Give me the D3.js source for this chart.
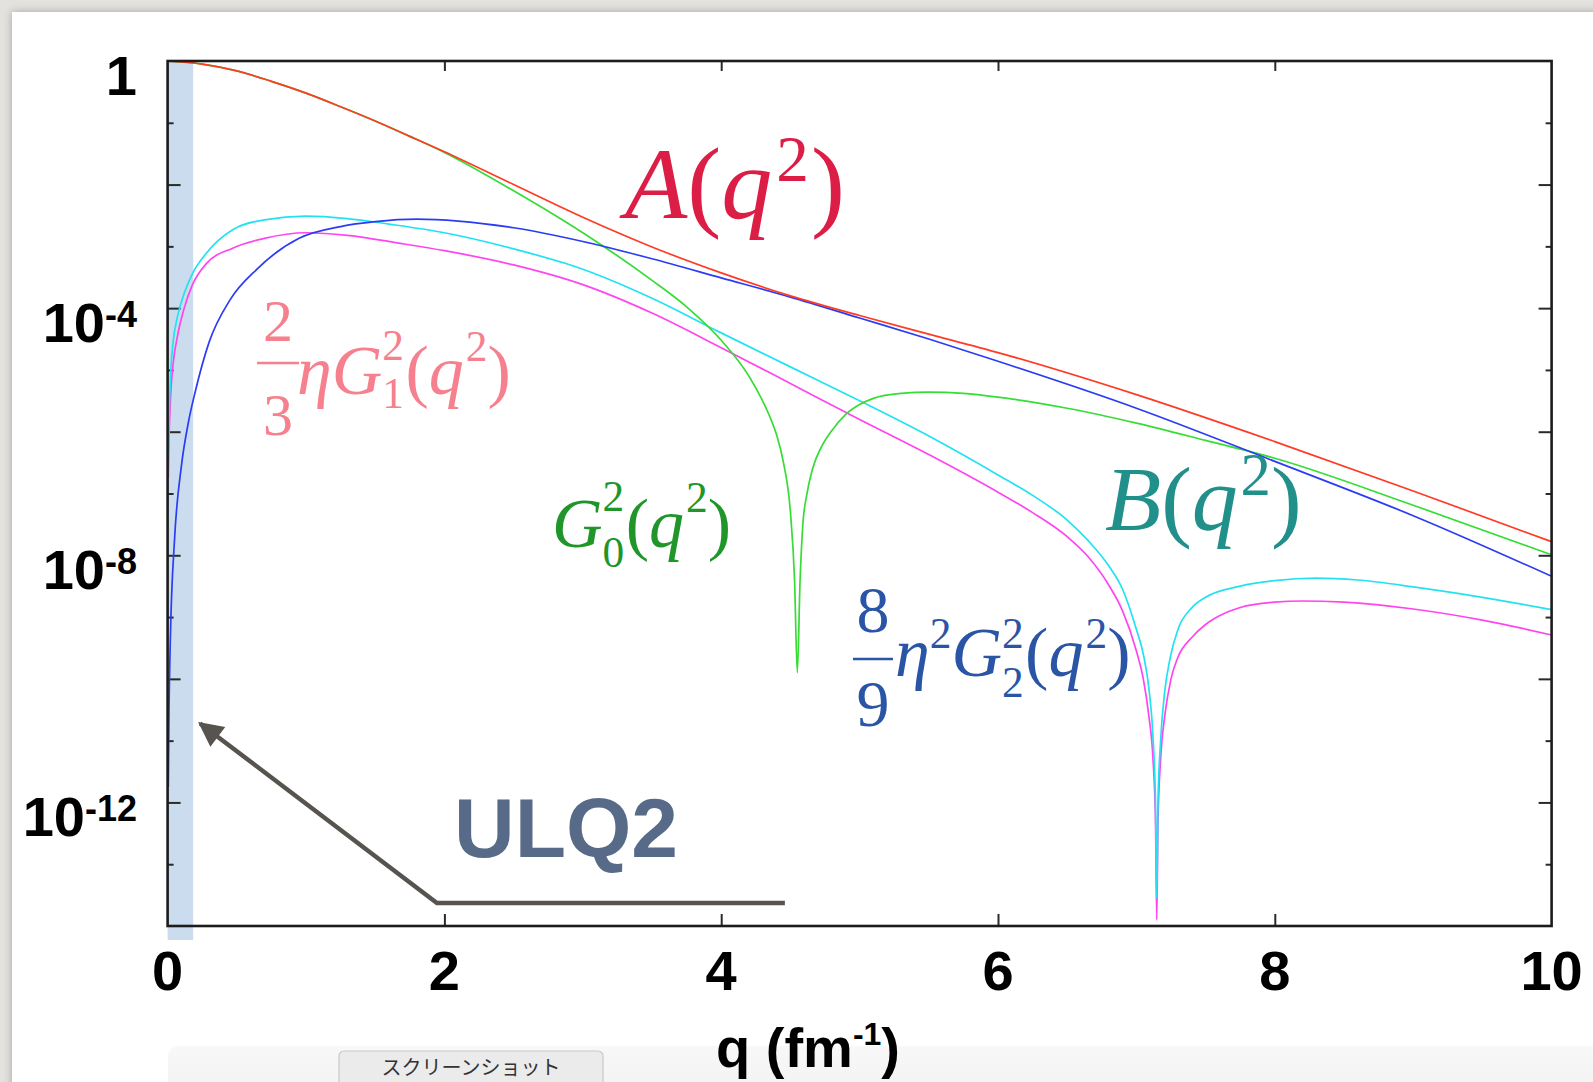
<!DOCTYPE html>
<html>
<head>
<meta charset="utf-8">
<script src="https://cdn.jsdelivr.net/npm/d3@7"></script>
<style>
  html, body { margin: 0; padding: 0; background: #e4e2de; }
  svg { display: block; }
</style>
</head>
<body>
<svg id="chart" width="1593" height="1082"></svg>
<script>
// ---- deuteron form factors vs momentum transfer q (fm^-1) ----

// A(q^2) structure function
const qA    = [0, 0.25, 0.5, 0.75, 1, 1.25, 1.5, 1.75, 2, 2.5, 3, 3.5, 4, 4.5, 5, 5.5, 6, 7, 8, 9, 10];
const aVals = [1, 0.891, 0.692, 0.468, 0.302, 0.182, 0.107, 6.03e-2, 3.39e-2, 1.0e-2, 2.95e-3, 9.77e-4,
               3.72e-4, 1.58e-4, 7.59e-5, 3.80e-5, 1.91e-5, 3.98e-6, 6.92e-7, 1.10e-7, 1.66e-8];

// charge form factor squared G0^2
const qG0    = [0, 0.25, 0.5, 0.75, 1, 1.25, 1.5, 1.75, 2, 2.5, 3, 3.5, 3.75, 4, 4.2, 4.35, 4.4, 4.45,
                4.5, 4.53, 4.55, 4.57, 4.59, 4.62, 4.66, 4.73, 4.8, 4.9, 5, 5.1, 5.3, 5.5, 5.75, 6, 6.5,
                7, 7.5, 8, 9, 10];
const g0Vals = [1, 0.891, 0.692, 0.468, 0.302, 0.182, 0.107, 6.03e-2, 3.31e-2, 7.94e-3, 1.66e-3, 2.82e-4,
                1.05e-4, 3.02e-5, 7.94e-6, 1.78e-6, 8.91e-7, 3.16e-7, 5.01e-8, 3.98e-9, 1.26e-10, 3.98e-9,
                3.16e-8, 1.0e-7, 2.51e-7, 6.03e-7, 1.05e-6, 1.91e-6, 2.75e-6, 3.47e-6, 4.17e-6, 4.37e-6,
                4.17e-6, 3.63e-6, 2.40e-6, 1.38e-6, 7.24e-7, 3.72e-7, 6.46e-8, 1.02e-8];

// quadrupole term 8/9 eta^2 G2^2
const qG2    = [0.005, 0.01, 0.02, 0.05, 0.1, 0.15, 0.2, 0.3, 0.45, 0.65, 0.95, 1.25, 1.5, 1.8, 2.1, 2.5,
                3, 3.5, 4, 4.5, 5, 5.5, 6, 7, 8, 9, 10];
const g2Vals = [1.78e-12, 2.82e-11, 4.47e-10, 1.78e-8, 2.82e-7, 1.41e-6, 4.47e-6, 2.82e-5, 1.35e-4, 4.37e-4,
                1.35e-3, 2.09e-3, 2.51e-3, 2.75e-3, 2.57e-3, 2.0e-3, 1.20e-3, 6.31e-4, 3.09e-4, 1.51e-4,
                6.92e-5, 3.16e-5, 1.38e-5, 2.40e-6, 3.31e-7, 4.37e-8, 4.57e-9];

// B(q^2) structure function
const qB    = [0.005, 0.01, 0.02, 0.04, 0.07, 0.12, 0.18, 0.28, 0.47, 0.7, 1.0, 1.3, 1.6, 2.0, 2.5, 3.0,
               3.5, 4.0, 4.5, 5.0, 5.5, 6.0, 6.25, 6.5, 6.65, 6.8, 6.9, 7.0, 7.05, 7.09, 7.12, 7.138, 7.147,
               7.156, 7.175, 7.205, 7.245, 7.3, 7.4, 7.5, 7.75, 8.0, 8.3, 8.6, 9.0, 9.5, 10];
const bVals = [3.98e-7, 1.58e-6, 7.08e-6, 2.82e-5, 7.08e-5, 1.74e-4, 3.63e-4, 7.76e-4, 1.86e-3, 2.69e-3,
               3.09e-3, 2.82e-3, 2.29e-3, 1.66e-3, 9.12e-4, 4.27e-4, 1.45e-4, 3.98e-5, 1.12e-5, 3.16e-6,
               8.51e-7, 2.0e-7, 9.33e-8, 3.72e-8, 1.74e-8, 6.76e-9, 2.82e-9, 6.31e-10, 2.51e-10, 7.08e-11,
               1.12e-11, 1.0e-12, 2.82e-14, 1.0e-12, 1.0e-11, 6.31e-11, 2.24e-10, 6.31e-10, 1.41e-9, 2.09e-9,
               3.16e-9, 3.89e-9, 4.27e-9, 3.98e-9, 3.09e-9, 2.09e-9, 1.32e-9];

// magnetic term 2/3 eta G1^2
const qG1    = [0.005, 0.01, 0.02, 0.04, 0.07, 0.12, 0.18, 0.28, 0.47, 0.7, 1.0, 1.3, 1.68, 2.0, 2.5, 3.0,
                3.5, 4.0, 4.5, 5.0, 5.5, 6.0, 6.25, 6.5, 6.65, 6.8, 6.9, 7.0, 7.05, 7.09, 7.12, 7.138, 7.147,
                7.156, 7.175, 7.205, 7.25, 7.3, 7.4, 7.5, 7.6, 7.75, 8.0, 8.2, 8.5, 9.0, 9.5, 10];
const g1Vals = [1.78e-7, 7.08e-7, 3.16e-6, 1.26e-5, 3.39e-5, 1.0e-4, 2.40e-4, 5.25e-4, 9.33e-4, 1.35e-3,
                1.66e-3, 1.51e-3, 1.12e-3, 8.51e-4, 5.01e-4, 2.40e-4, 8.32e-5, 2.29e-5, 6.03e-6, 1.58e-6,
                4.27e-7, 1.05e-7, 4.90e-8, 2.0e-8, 9.55e-9, 3.31e-9, 1.26e-9, 2.82e-10, 1.0e-10, 2.51e-11,
                5.01e-12, 5.01e-13, 1.26e-14, 5.01e-13, 5.01e-12, 2.51e-11, 1.0e-10, 2.24e-10, 4.68e-10,
                7.59e-10, 1.05e-9, 1.43e-9, 1.74e-9, 1.82e-9, 1.74e-9, 1.35e-9, 8.91e-10, 5.13e-10];

// axis ticks
const xTickValues  = [0, 2, 4, 6, 8, 10];
const xInnerTicks  = [2, 4, 6, 8];
const yTickValues  = [1, 1e-1, 1e-2, 1e-3, 1e-4, 1e-5, 1e-6, 1e-7, 1e-8, 1e-9, 1e-10, 1e-11, 1e-12, 1e-13, 1e-14];
const yLabelValues = [1, 1e-4, 1e-8, 1e-12];
const yLabelExps   = ["", "-4", "-8", "-12"];

// q range covered by the ULQ2 measurement
const ulq2Range = [0, 0.185];

// ---------------------------------------------------------------
const W = 1593, H = 1082;
const svg  = d3.select("#chart");
const defs = svg.append("defs");

const shadow = defs.append("filter").attr("id", "panelShadow")
  .attr("x", "-5%").attr("y", "-5%").attr("width", "110%").attr("height", "110%");
shadow.append("feDropShadow").attr("dx", 0).attr("dy", 0).attr("stdDeviation", 4)
  .attr("flood-color", "#000").attr("flood-opacity", 0.28);

svg.append("rect").attr("width", W).attr("height", H).attr("fill", "#e4e2de");
svg.append("rect").attr("x", 12).attr("y", 12).attr("width", W).attr("height", H)
  .attr("fill", "#ffffff").attr("filter", "url(#panelShadow)");

// ---- bottom toolbar strip (sits behind the axis title) ----
const strip = defs.append("linearGradient").attr("id", "stripFade").attr("x1", 0).attr("y1", 0).attr("x2", 0).attr("y2", 1);
strip.append("stop").attr("offset", "0%").attr("stop-color", "#f8f8f8");
strip.append("stop").attr("offset", "100%").attr("stop-color", "#f1f1f1");
svg.append("rect").attr("x", 168).attr("y", 1046).attr("width", 1440).attr("height", 60).attr("rx", 10)
  .attr("fill", "url(#stripFade)");
svg.append("rect").attr("x", 339).attr("y", 1051).attr("width", 264).attr("height", 44).attr("rx", 5)
  .attr("fill", "#ebebeb").attr("stroke", "#c9c9c9").attr("stroke-width", 1.2);
svg.append("text").attr("x", 471).attr("y", 1075).attr("text-anchor", "middle")
  .style("font-family", '"Noto Sans CJK JP", sans-serif').style("font-size", "20px")
  .attr("fill", "#333").text("スクリーンショット");

const plot = { left: 167.6, right: 1551.6, top: 61, bottom: 926 };
const x = d3.scaleLinear().domain([0, 10]).range([plot.left, plot.right]);
const y = d3.scaleLog().domain([1e-14, 1]).range([plot.bottom, plot.top]);

defs.append("clipPath").attr("id", "plotClip").append("rect")
  .attr("x", plot.left).attr("y", plot.top)
  .attr("width", plot.right - plot.left).attr("height", plot.bottom - plot.top);

// ULQ2 band
svg.append("rect")
  .attr("x", x(ulq2Range[0])).attr("y", plot.top)
  .attr("width", x(ulq2Range[1]) - x(ulq2Range[0]))
  .attr("height", plot.bottom + 14 - plot.top)
  .attr("fill", "#cbdcee");

// ---- axes (ticks point inward) ----
const exponentOf = d => Math.round(-Math.log10(d));
const tickLen = d => (exponentOf(d) % 2 === 0 ? 13 : 6);

function styleAxis(g) {
  g.select(".domain").remove();
  g.selectAll(".tick text").remove();
  g.selectAll(".tick line").attr("stroke", "#2a2a2a").attr("stroke-width", 2);
}

const gLeft = svg.append("g").attr("transform", `translate(${plot.left},0)`)
  .call(d3.axisLeft(y).tickValues(yTickValues.slice(1, -1)).tickSizeOuter(0).tickSize(-12));
styleAxis(gLeft);
gLeft.selectAll(".tick line").attr("x2", d => tickLen(d));

const gRight = svg.append("g").attr("transform", `translate(${plot.right},0)`)
  .call(d3.axisRight(y).tickValues(yTickValues.slice(1, -1)).tickSizeOuter(0).tickSize(-12));
styleAxis(gRight);
gRight.selectAll(".tick line").attr("x2", d => -tickLen(d));

const gBottom = svg.append("g").attr("transform", `translate(0,${plot.bottom})`)
  .call(d3.axisBottom(x).tickValues(xInnerTicks).tickSizeOuter(0).tickSize(-12));
styleAxis(gBottom);

const gTop = svg.append("g").attr("transform", `translate(0,${plot.top})`)
  .call(d3.axisTop(x).tickValues(xInnerTicks).tickSizeOuter(0).tickSize(-10));
styleAxis(gTop);

// ---- curves ----
const line = d3.line().x(d => x(d[0])).y(d => y(d[1])).curve(d3.curveMonotoneX);
const series = [
  { q: qG1, v: g1Vals, color: "#ff45ee" },
  { q: qB,  v: bVals,  color: "#22e2f2" },
  { q: qG0, v: g0Vals, color: "#35dd35" },
  { q: qG2, v: g2Vals, color: "#2b3cf5" },
  { q: qA,  v: aVals,  color: "#ff3b26" }
];
const curves = svg.append("g").attr("clip-path", "url(#plotClip)");
curves.selectAll("path").data(series).join("path")
  .attr("d", s => line(d3.zip(s.q, s.v)))
  .attr("fill", "none")
  .attr("stroke", s => s.color)
  .attr("stroke-width", 1.7)
  .attr("stroke-linejoin", "round");

// frame
svg.append("rect")
  .attr("x", plot.left).attr("y", plot.top)
  .attr("width", plot.right - plot.left).attr("height", plot.bottom - plot.top)
  .attr("fill", "none").attr("stroke", "#1c1c1c").attr("stroke-width", 2.6);

// ---- tick labels ----
const sansBold = '"Liberation Sans", Arial, Helvetica, sans-serif';

svg.append("g").selectAll("text").data(xTickValues).join("text")
  .attr("x", d => x(d)).attr("y", 990)
  .attr("text-anchor", "middle")
  .style("font-family", sansBold).style("font-weight", "bold").style("font-size", "56px")
  .attr("fill", "#000")
  .text(d => d);

const yl = svg.append("g").selectAll("text").data(yLabelValues).join("text")
  .attr("x", 137).attr("y", d => y(d) + 34)
  .attr("text-anchor", "end")
  .style("font-family", sansBold).style("font-weight", "bold").style("font-size", "56px")
  .attr("fill", "#000");
yl.each(function (d, i) {
  const t = d3.select(this);
  if (yLabelExps[i] === "") { t.text("1"); return; }
  t.append("tspan").text("10");
  t.append("tspan").text(yLabelExps[i]).style("font-size", "36px").attr("dy", -15);
});

// axis title
const xt = svg.append("text").attr("x", 808).attr("y", 1067).attr("text-anchor", "middle")
  .style("font-family", sansBold).style("font-weight", "bold").style("font-size", "56px").attr("fill", "#000");
xt.append("tspan").text("q (fm");
xt.append("tspan").text("-1").style("font-size", "32px").attr("dy", -22);
xt.append("tspan").text(")").attr("dy", 22);

// ---- formula labels ----
const serif = '"Liberation Serif", "Times New Roman", Times, serif';

function mathLabel(x0, base, size, color, parts) {
  const t = svg.append("text").attr("x", x0).attr("y", base).attr("fill", color)
    .style("font-family", serif).style("font-size", size + "px");
  parts.forEach(p => {
    const s = t.append("tspan").text(p.t).attr("y", base + (p.dy || 0) * size);
    if (p.it) s.style("font-style", "italic");
    if (p.sc) s.style("font-size", (size * p.sc) + "px");
    if (p.dx) s.attr("dx", p.dx * size);
  });
  return t;
}

function fraction(cx, numBase, denBase, barY, halfW, size, color, num, den) {
  const g = svg.append("g").attr("fill", color)
    .style("font-family", serif).style("font-size", size + "px");
  g.append("text").attr("x", cx).attr("y", numBase).attr("text-anchor", "middle").text(num);
  g.append("text").attr("x", cx).attr("y", denBase).attr("text-anchor", "middle").text(den);
  svg.append("line").attr("x1", cx - halfW).attr("x2", cx + halfW).attr("y1", barY).attr("y2", barY)
    .attr("stroke", color).attr("stroke-width", 2.6);
}

// A(q^2)
mathLabel(625, 218, 102, "#dc1e47", [
  { t: "A", it: true }, { t: "(" }, { t: "q", it: true },
  { t: "2", sc: 0.64, dy: -0.36, dx: 0.04 }, { t: ")", dy: 0, dx: 0.02 }
]);

// B(q^2)
mathLabel(1105, 530, 92, "#22908a", [
  { t: "B", it: true }, { t: "(" }, { t: "q", it: true },
  { t: "2", sc: 0.66, dy: -0.38, dx: 0.03 }, { t: ")", dy: 0 }
]);

// G0^2(q^2)
mathLabel(552, 547, 70, "#20962a", [
  { t: "G", it: true },
  { t: "2", sc: 0.62, dy: -0.52 },
  { t: "0", sc: 0.62, dy: 0.29, dx: -0.31 },
  { t: "(", dy: 0, dx: 0.02 }, { t: "q", it: true },
  { t: "2", sc: 0.62, dy: -0.5, dx: 0.03 }, { t: ")", dy: 0 }
]);

// 2/3 eta G1^2(q^2)
fraction(278, 341, 435, 363, 21, 60, "#f6808d", "2", "3");
mathLabel(297, 394, 70, "#f6808d", [
  { t: "η", it: true }, { t: "G", it: true },
  { t: "2", sc: 0.62, dy: -0.49 },
  { t: "1", sc: 0.62, dy: 0.2, dx: -0.31 },
  { t: "(", dy: 0, dx: 0.02 }, { t: "q", it: true },
  { t: "2", sc: 0.62, dy: -0.47, dx: 0.03 }, { t: ")", dy: 0 }
]);

// 8/9 eta^2 G2^2(q^2)
fraction(873, 632, 726, 659, 20, 66, "#2a55a6", "8", "9");
mathLabel(895, 676, 70, "#2a55a6", [
  { t: "η", it: true },
  { t: "2", sc: 0.62, dy: -0.4 },
  { t: "G", it: true, dy: 0 },
  { t: "2", sc: 0.62, dy: -0.4 },
  { t: "2", sc: 0.62, dy: 0.3, dx: -0.31 },
  { t: "(", dy: 0, dx: 0.02 }, { t: "q", it: true },
  { t: "2", sc: 0.62, dy: -0.4, dx: 0.03 }, { t: ")", dy: 0 }
]);

// ---- ULQ2 annotation ----
defs.append("marker").attr("id", "arrowHead")
  .attr("viewBox", "0 0 10 10").attr("refX", 9).attr("refY", 5)
  .attr("markerWidth", 6.2).attr("markerHeight", 5.6).attr("orient", "auto")
  .attr("markerUnits", "strokeWidth")
  .append("path").attr("d", "M0,0 L10,5 L0,10 Z").attr("fill", "#57534e");

const arrowPts = [[4.46, 2.35e-14], [1.946, 2.35e-14], [0.235, 1.9e-11]];
svg.append("path")
  .attr("d", d3.line().x(d => x(d[0])).y(d => y(d[1]))(arrowPts))
  .attr("fill", "none").attr("stroke", "#57534e").attr("stroke-width", 4.4)
  .attr("marker-end", "url(#arrowHead)");

svg.append("text").attr("x", 454).attr("y", 857)
  .style("font-family", sansBold).style("font-weight", "bold").style("font-size", "84px")
  .attr("fill", "#576b89").text("ULQ2");
</script>
</body>
</html>
